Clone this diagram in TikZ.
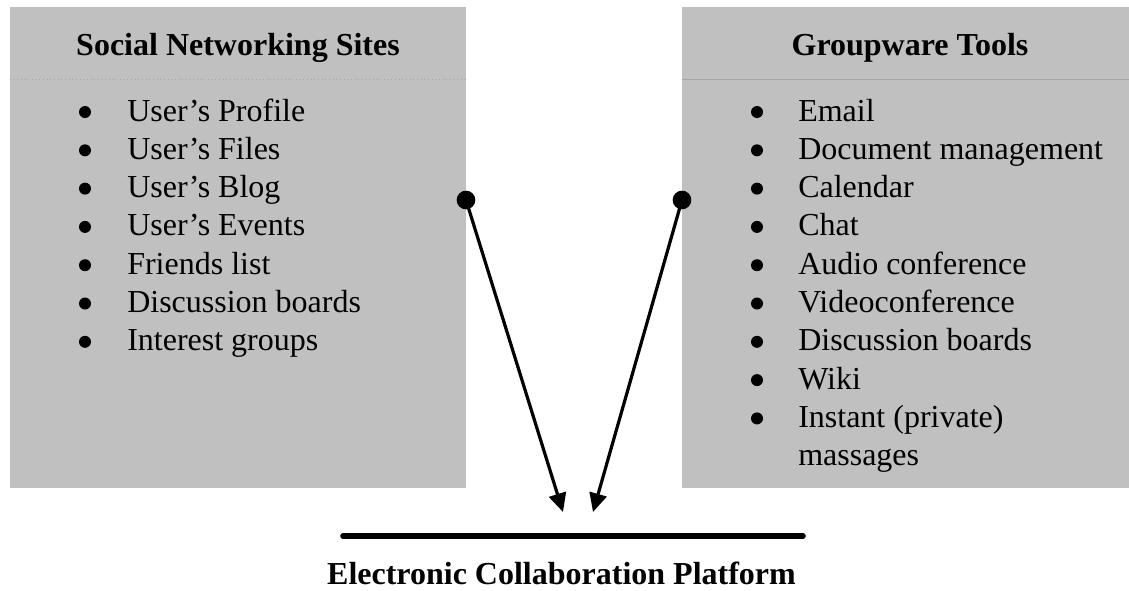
\documentclass[tikz,border=0pt]{standalone}
\usepackage{fontspec}
\setmainfont{Liberation Serif}
\usetikzlibrary{arrows.meta}
\definecolor{boxgray}{RGB}{192,192,192}
\definecolor{rulegray}{RGB}{165,165,165}
\begin{document}
\begin{tikzpicture}[x=0.75pt,y=-0.75pt,
  panel/.style={fill=boxgray, draw=none},
  divider/.style={draw=rulegray, line width=0.75pt},
  item/.style={anchor=base west, inner sep=0pt, font=\fontsize{24}{28}\selectfont},
  bul/.style={circle, fill=black, inner sep=0pt, minimum size=9pt},
  title/.style={anchor=base, inner sep=0pt, font=\fontsize{24}{28}\selectfont\bfseries},
  dot/.style={circle, fill=black, inner sep=0pt, minimum size=14pt},
  arr/.style={line width=2.4pt, -{Triangle[length=14pt,width=13pt]}, shorten <=-4pt},
  platform/.style={line width=4.2pt, line cap=round},
]
\useasboundingbox (0,0) rectangle (1129,590);
% panels
\fill[panel] (10,7) rectangle (466,488);
\fill[panel] (682,7) rectangle (1129,488);
\draw[divider, dotted] (10,79) -- (466,79);
\draw[divider] (682,79) -- (1129,79);
% titles
\node[title] (tL) at (238,55) {Social Networking Sites};
\node[title] (tR) at (910,55) {Groupware Tools};
% left list
\foreach \t [count=\i] in {User’s Profile, User’s Files, User’s Blog, User’s Events, Friends list, Discussion boards, Interest groups}{
  \node[bul] (bL\i) at (85,{112+38.3*(\i-1)}) {};
  \node[item] (L\i) at (127,{121+38.3*(\i-1)}) {\t};
}
% right list
\foreach \t [count=\i] in {Email, Document management, Calendar, Chat, Audio conference, Videoconference, Discussion boards, Wiki, Instant (private)}{
  \node[bul] (bR\i) at (757,{112+38.3*(\i-1)}) {};
  \node[item] (R\i) at (798,{121+38.3*(\i-1)}) {\t};
}
\node[item] (R10) at (798,{121+38.3*9}) {massages};
% dots and arrows
\node[dot] (dotL) at (466,200) {};
\node[dot] (dotR) at (682,200) {};
\coordinate (tipL) at (563,512);
\coordinate (tipR) at (593,512);
\draw[arr] (dotL) -- (tipL);
\draw[arr] (dotR) -- (tipR);
% platform
\coordinate (pA) at (343,536);
\coordinate (pB) at (803,536);
\draw[platform] (pA) -- (pB);
\node[title] (plat) at (561.5,584) {Electronic Collaboration Platform};
\end{tikzpicture}
\end{document}
